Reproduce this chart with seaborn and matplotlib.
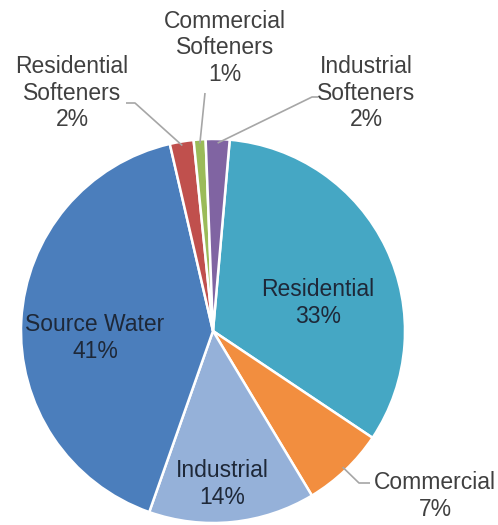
import numpy as np
import matplotlib
matplotlib.use("Agg")
import matplotlib.pyplot as plt
import seaborn as sns

categories = ["Residential", "Commercial", "Industrial", "Source Water",
              "Residential\nSofteners", "Commercial\nSofteners", "Industrial\nSofteners"]
values = [33, 7, 14, 41, 2, 1, 2]
colors = ["#45a7c4", "#f28e3f", "#95b1d9", "#4b7ebc", "#c0504d", "#9bbb59", "#8064a2"]

sns.set_theme(style="white")
plt.rcParams['font.family'] = ['Liberation Sans', 'DejaVu Sans']

W, H = 498, 525
fig = plt.figure(figsize=(W / 100, H / 100), dpi=100)
ax = fig.add_axes([0, 0, 1, 1])

cx, cy_px, R = 213, 331, 192
cy = H - cy_px

wedges, _ = ax.pie(values, colors=colors, startangle=85, counterclock=False,
                   center=(cx, cy), radius=R, frame=True,
                   wedgeprops=dict(edgecolor="white", linewidth=1.8))
ax.set_xlim(0, W)
ax.set_ylim(0, H)
ax.set_aspect("equal")
ax.axis("off")

def P(xp, yp):
    return xp, H - yp

# inside labels
inside = {0: (318, 303), 3: (95, 338), 2: (222, 484)}
for i, (xp, yp) in inside.items():
    ax.text(*P(xp, yp), f"{categories[i]}\n{values[i]}%", ha="center", va="center",
            fontsize=16.5, color="#1e2838", linespacing=1.2)

# outside labels
outside = {4: (72, 93), 5: (225, 48), 6: (366, 93), 1: (435, 496)}
for i, (xp, yp) in outside.items():
    ax.text(*P(xp, yp), f"{categories[i]}\n{values[i]}%", ha="center", va="center",
            fontsize=16.5, color="#404040", linespacing=1.2)

def wedge_pt(i, r=R - 4):
    w = wedges[i]
    th = np.deg2rad((w.theta1 + w.theta2) / 2)
    return cx + r * np.cos(th), cy + r * np.sin(th)

leaders = {
    4: [P(126, 103), P(135, 103)],
    5: [P(205, 93)],
    6: [P(318, 97), P(312, 97)],
    1: [P(370, 483), P(359, 483)],
}
for i, pts in leaders.items():
    wx, wy = wedge_pt(i)
    xs = [p[0] for p in pts] + [wx]
    ys = [p[1] for p in pts] + [wy]
    ax.plot(xs, ys, color="#a6a6a6", lw=1.2, solid_capstyle="butt")

fig.savefig("out.png", dpi=100, facecolor="white")
